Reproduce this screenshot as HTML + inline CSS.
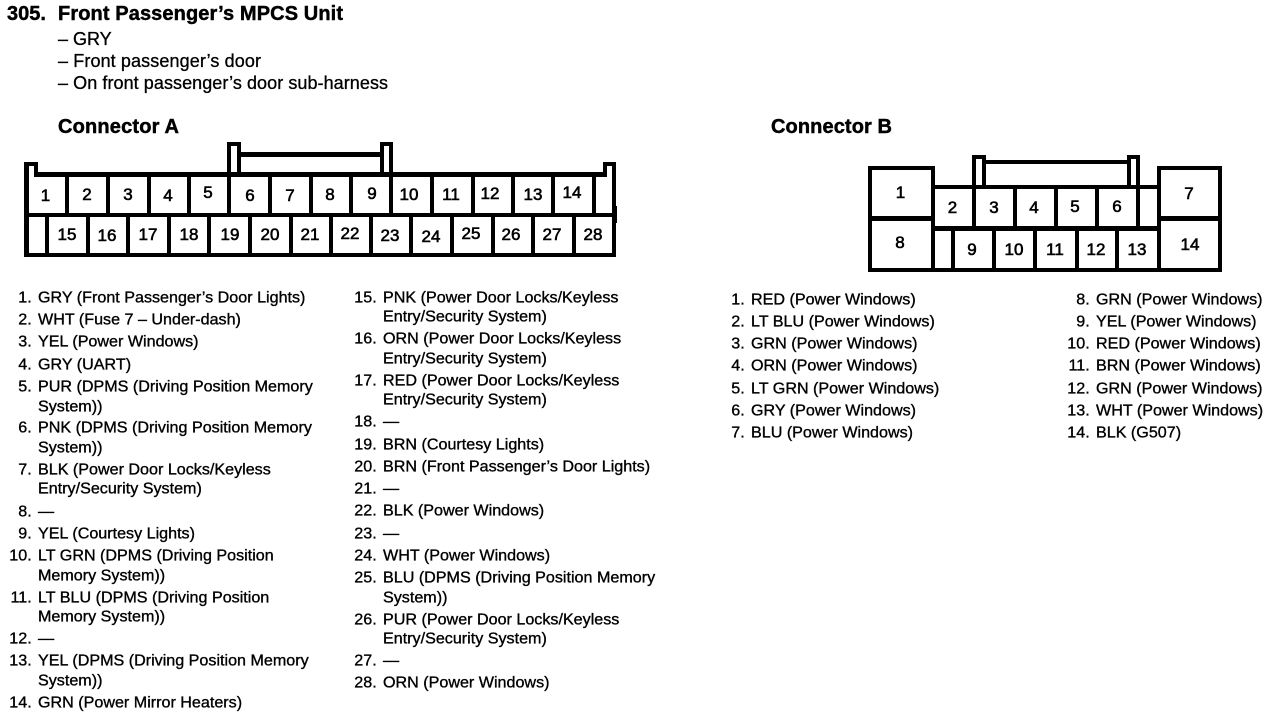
<!DOCTYPE html>
<html><head><meta charset="utf-8"><style>
html,body{margin:0;padding:0;background:#fff;width:1280px;height:720px;overflow:hidden}
svg{display:block}
text{font-family:"Liberation Sans",sans-serif;fill:#000;stroke:#000;stroke-width:.35;font-size:16.12px}
.h{font-weight:bold;font-size:20px;stroke-width:.45}
.s{font-size:18px;stroke-width:.3}
.n text{text-anchor:middle;font-size:17px;stroke-width:.6}
.r{text-anchor:end;transform:translateX(.7px)}
.l{transform:translateY(-.7px)}
</style></head><body>
<svg width="1280" height="720" viewBox="0 0 1280 720" xmlns="http://www.w3.org/2000/svg">
<text class="h" x="7" y="20">305.</text>
<text class="h" x="58" y="20" textLength="285">Front Passenger’s MPCS Unit</text>
<text class="s" x="58" y="45">– GRY</text>
<text class="s" x="58" y="67" textLength="203">– Front passenger’s door</text>
<text class="s" x="58" y="89" textLength="330">– On front passenger’s door sub-harness</text>
<text class="h" x="58" y="133" textLength="121">Connector A</text>
<text class="h" x="771" y="133" textLength="121">Connector B</text>

<!-- Connector A -->
<g fill="#000">
<rect x="24" y="172" width="592" height="5"/>
<rect x="24" y="213" width="592" height="4"/>
<rect x="24" y="253" width="592" height="4"/>
<rect x="24" y="162" width="5" height="95"/>
<rect x="612" y="162" width="4" height="95"/>
<rect x="616" y="206" width="1" height="17"/>
<rect x="24" y="162" width="14" height="4"/>
<rect x="34" y="162" width="4" height="10"/>
<rect x="603" y="162" width="13" height="4"/>
<rect x="603" y="162" width="4" height="10"/>
<rect x="65" y="172" width="4" height="45"/><rect x="106" y="172" width="4" height="45"/><rect x="147" y="172" width="4" height="45"/><rect x="187" y="172" width="4" height="45"/><rect x="227" y="172" width="4" height="45"/><rect x="268" y="172" width="4" height="45"/><rect x="309" y="172" width="4" height="45"/><rect x="349" y="172" width="4" height="45"/><rect x="389" y="172" width="4" height="45"/><rect x="430" y="172" width="4" height="45"/><rect x="471" y="172" width="4" height="45"/><rect x="511" y="172" width="4" height="45"/><rect x="551" y="172" width="4" height="45"/><rect x="592" y="172" width="4" height="45"/>
<rect x="45" y="213" width="4" height="44"/><rect x="86" y="213" width="4" height="44"/><rect x="126" y="213" width="4" height="44"/><rect x="167" y="213" width="4" height="44"/><rect x="207" y="213" width="4" height="44"/><rect x="248" y="213" width="4" height="44"/><rect x="289" y="213" width="4" height="44"/><rect x="329" y="213" width="4" height="44"/><rect x="369" y="213" width="4" height="44"/><rect x="409" y="213" width="4" height="44"/><rect x="450" y="213" width="4" height="44"/><rect x="491" y="213" width="4" height="44"/><rect x="531" y="213" width="4" height="44"/><rect x="572" y="213" width="4" height="44"/>
<rect x="227" y="142" width="14" height="30"/>
<rect x="380" y="142" width="13" height="30"/>
<rect x="241" y="152" width="139" height="5"/>
</g>
<rect x="29" y="166" width="5" height="6" fill="#fff"/>
<rect x="29" y="172" width="5" height="5" fill="#fff"/>
<rect x="607" y="166" width="5" height="11" fill="#fff"/>
<rect x="231" y="146" width="6" height="26" fill="#fff"/>
<rect x="384" y="146" width="5" height="26" fill="#fff"/>

<g class="n">
<text x="45.5" y="201">1</text><text x="87" y="200">2</text><text x="128" y="200">3</text><text x="168" y="201">4</text><text x="208" y="198">5</text><text x="250" y="201">6</text><text x="290" y="201">7</text><text x="330" y="200">8</text><text x="372" y="199">9</text><text x="409" y="200">10</text><text x="451" y="200">11</text><text x="490" y="199">12</text><text x="533" y="200">13</text><text x="572" y="198">14</text>
<text x="67" y="240">15</text><text x="107" y="241">16</text><text x="148" y="240">17</text><text x="189" y="240">18</text><text x="230" y="240">19</text><text x="270" y="240">20</text><text x="310" y="240">21</text><text x="350" y="239">22</text><text x="390" y="241">23</text><text x="431" y="242">24</text><text x="471" y="239">25</text><text x="511" y="240">26</text><text x="552" y="240">27</text><text x="593" y="240">28</text>
</g>

<!-- Connector B -->
<g fill="#000">
<rect x="868" y="166" width="67" height="4"/>
<rect x="868" y="216" width="67" height="5"/>
<rect x="868" y="268" width="354" height="4"/>
<rect x="868" y="166" width="4" height="106"/>
<rect x="931" y="166" width="4" height="106"/>
<rect x="1157" y="166" width="65" height="4"/>
<rect x="1157" y="216" width="65" height="5"/>
<rect x="1157" y="166" width="4" height="106"/>
<rect x="1218" y="166" width="4" height="106"/>
<rect x="931" y="185" width="230" height="4"/>
<rect x="931" y="226" width="230" height="5"/>
<rect x="972" y="185" width="4" height="46"/><rect x="1013" y="185" width="4" height="46"/><rect x="1054" y="185" width="4" height="46"/><rect x="1095" y="185" width="4" height="46"/><rect x="1136" y="185" width="4" height="46"/>
<rect x="951" y="226" width="4" height="46"/><rect x="992" y="226" width="4" height="46"/><rect x="1033" y="226" width="4" height="46"/><rect x="1075" y="226" width="4" height="46"/><rect x="1115" y="226" width="4" height="46"/>
<rect x="972" y="155" width="14" height="30"/>
<rect x="1127" y="155" width="13" height="30"/>
<rect x="986" y="160" width="141" height="4"/>
</g>
<rect x="976" y="159" width="6" height="26" fill="#fff"/>
<rect x="1131" y="159" width="5" height="26" fill="#fff"/>
<g class="n">
<text x="900.5" y="198">1</text><text x="952.5" y="213">2</text><text x="994" y="213">3</text><text x="1034" y="213">4</text><text x="1075" y="212">5</text><text x="1117" y="212">6</text><text x="1189" y="199">7</text>
<text x="900" y="248">8</text><text x="972" y="255">9</text><text x="1014" y="255">10</text><text x="1055" y="255">11</text><text x="1096" y="255">12</text><text x="1137" y="255">13</text><text x="1190" y="250">14</text>
</g>

<!-- Left list -->
<g class="l">
<text class="r" x="31" y="303">1.</text><text x="38" y="303">GRY (Front Passenger’s Door Lights)</text>
<text class="r" x="31" y="325">2.</text><text x="38" y="325">WHT (Fuse 7 – Under-dash)</text>
<text class="r" x="31" y="347">3.</text><text x="38" y="347">YEL (Power Windows)</text>
<text class="r" x="31" y="370">4.</text><text x="38" y="370">GRY (UART)</text>
<text class="r" x="31" y="392">5.</text><text x="38" y="392">PUR (DPMS (Driving Position Memory</text>
<text x="38" y="412">System))</text>
<text class="r" x="31" y="433">6.</text><text x="38" y="433">PNK (DPMS (Driving Position Memory</text>
<text x="38" y="453">System))</text>
<text class="r" x="31" y="475">7.</text><text x="38" y="475">BLK (Power Door Locks/Keyless</text>
<text x="38" y="494">Entry/Security System)</text>
<text class="r" x="31" y="517">8.</text><text x="38" y="517">—</text>
<text class="r" x="31" y="539">9.</text><text x="38" y="539">YEL (Courtesy Lights)</text>
<text class="r" x="31" y="561">10.</text><text x="38" y="561">LT GRN (DPMS (Driving Position</text>
<text x="38" y="581">Memory System))</text>
<text class="r" x="31" y="603">11.</text><text x="38" y="603">LT BLU (DPMS (Driving Position</text>
<text x="38" y="622">Memory System))</text>
<text class="r" x="31" y="644">12.</text><text x="38" y="644">—</text>
<text class="r" x="31" y="666">13.</text><text x="38" y="666">YEL (DPMS (Driving Position Memory</text>
<text x="38" y="686">System))</text>
<text class="r" x="31" y="708">14.</text><text x="38" y="708">GRN (Power Mirror Heaters)</text>
</g>
<!-- Middle list -->
<g class="l">
<text class="r" x="376" y="303">15.</text><text x="383" y="303">PNK (Power Door Locks/Keyless</text>
<text x="383" y="322">Entry/Security System)</text>
<text class="r" x="376" y="344">16.</text><text x="383" y="344">ORN (Power Door Locks/Keyless</text>
<text x="383" y="364">Entry/Security System)</text>
<text class="r" x="376" y="386">17.</text><text x="383" y="386">RED (Power Door Locks/Keyless</text>
<text x="383" y="405">Entry/Security System)</text>
<text class="r" x="376" y="427">18.</text><text x="383" y="427">—</text>
<text class="r" x="376" y="450">19.</text><text x="383" y="450">BRN (Courtesy Lights)</text>
<text class="r" x="376" y="472">20.</text><text x="383" y="472">BRN (Front Passenger’s Door Lights)</text>
<text class="r" x="376" y="494">21.</text><text x="383" y="494">—</text>
<text class="r" x="376" y="516">22.</text><text x="383" y="516">BLK (Power Windows)</text>
<text class="r" x="376" y="539">23.</text><text x="383" y="539">—</text>
<text class="r" x="376" y="561">24.</text><text x="383" y="561">WHT (Power Windows)</text>
<text class="r" x="376" y="583">25.</text><text x="383" y="583">BLU (DPMS (Driving Position Memory</text>
<text x="383" y="603">System))</text>
<text class="r" x="376" y="625">26.</text><text x="383" y="625">PUR (Power Door Locks/Keyless</text>
<text x="383" y="644">Entry/Security System)</text>
<text class="r" x="376" y="666">27.</text><text x="383" y="666">—</text>
<text class="r" x="376" y="688">28.</text><text x="383" y="688">ORN (Power Windows)</text>
</g>
<!-- Connector B lists -->
<g class="l">
<text class="r" x="744" y="305">1.</text><text x="751" y="305">RED (Power Windows)</text>
<text class="r" x="744" y="327">2.</text><text x="751" y="327">LT BLU (Power Windows)</text>
<text class="r" x="744" y="349">3.</text><text x="751" y="349">GRN (Power Windows)</text>
<text class="r" x="744" y="371">4.</text><text x="751" y="371">ORN (Power Windows)</text>
<text class="r" x="744" y="394">5.</text><text x="751" y="394">LT GRN (Power Windows)</text>
<text class="r" x="744" y="416">6.</text><text x="751" y="416">GRY (Power Windows)</text>
<text class="r" x="744" y="438">7.</text><text x="751" y="438">BLU (Power Windows)</text>
<text class="r" x="1089" y="305">8.</text><text x="1096" y="305">GRN (Power Windows)</text>
<text class="r" x="1089" y="327">9.</text><text x="1096" y="327">YEL (Power Windows)</text>
<text class="r" x="1089" y="349">10.</text><text x="1096" y="349">RED (Power Windows)</text>
<text class="r" x="1089" y="371">11.</text><text x="1096" y="371">BRN (Power Windows)</text>
<text class="r" x="1089" y="394">12.</text><text x="1096" y="394">GRN (Power Windows)</text>
<text class="r" x="1089" y="416">13.</text><text x="1096" y="416">WHT (Power Windows)</text>
<text class="r" x="1089" y="438">14.</text><text x="1096" y="438">BLK (G507)</text>
</g>
</svg>
</body></html>
